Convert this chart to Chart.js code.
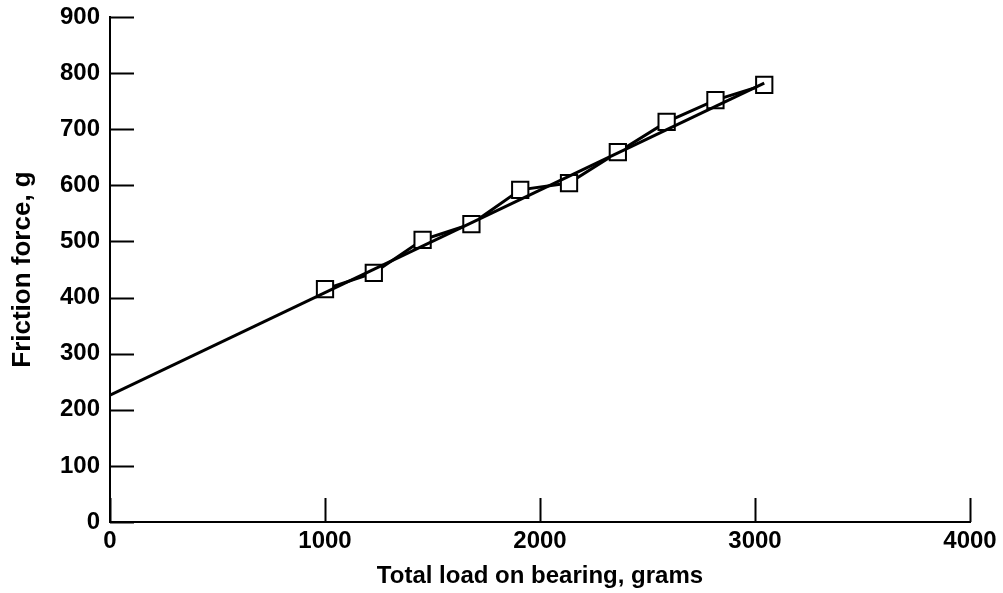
<!DOCTYPE html>
<html>
<head>
<meta charset="utf-8">
<script src="https://cdn.jsdelivr.net/npm/chart.js@4/dist/chart.umd.min.js"></script>
<style>
  html, body { margin: 0; padding: 0; background: #fff; }
  #wrap { width: 1003px; height: 593px; }
</style>
</head>
<body>
<div id="wrap"><canvas id="frictionChart" width="1003" height="593"></canvas></div>
<script>
const loads = [1000, 1227, 1454, 1681, 1908, 2135, 2362, 2589, 2816, 3043];
const friction = [415, 444, 503, 531, 592, 604, 659, 713, 752, 779];
const fitLoads = [0, 3043];
const fitFriction = [226, 782];
const xTicks = [0, 1000, 2000, 3000, 4000];
const yTicks = [0, 100, 200, 300, 400, 500, 600, 700, 800, 900];

const font = { family: "Liberation Sans", size: 24, weight: "bold" };

// tick marks drawn on the inside of the axes
const insideTicks = {
  id: "insideTicks",
  afterDraw(chart) {
    const { ctx, scales: { x, y } } = chart;
    ctx.save();
    ctx.strokeStyle = "#000";
    ctx.lineWidth = 2;
    ctx.beginPath();
    yTicks.forEach((v) => {
      const py = Math.round(y.getPixelForValue(v)) + 0.5;
      ctx.moveTo(x.left, py);
      ctx.lineTo(x.left + 24, py);
    });
    xTicks.forEach((v) => {
      const px = Math.round(x.getPixelForValue(v)) + 0.5;
      ctx.moveTo(px, y.bottom);
      ctx.lineTo(px, y.bottom - 24);
    });
    ctx.stroke();
    ctx.restore();
  }
};

new Chart(document.getElementById("frictionChart"), {
  type: "scatter",
  data: {
    datasets: [
      {
        label: "fit",
        data: fitLoads.map((v, i) => ({ x: v, y: fitFriction[i] })),
        showLine: true,
        borderColor: "#000",
        borderWidth: 3,
        pointRadius: 0
      },
      {
        label: "measured",
        data: loads.map((v, i) => ({ x: v, y: friction[i] })),
        showLine: true,
        borderColor: "#000",
        borderWidth: 3,
        pointStyle: "rect",
        pointRadius: 11.5,
        pointBorderWidth: 2,
        pointBorderColor: "#000",
        pointBackgroundColor: "#fff"
      }
    ]
  },
  plugins: [insideTicks],
  options: {
    responsive: false,
    animation: false,
    layout: { padding: { top: 17, right: 33, left: 0, bottom: 0 } },
    plugins: { legend: { display: false }, tooltip: { enabled: false } },
    scales: {
      x: {
        type: "linear",
        min: 0,
        max: 4000,
        afterBuildTicks: (s) => { s.ticks = xTicks.map((v) => ({ value: v })); },
        afterFit: (s) => { s.height = 71; },
        grid: { display: false, drawTicks: false },
        border: { display: true, color: "#000", width: 2 },
        ticks: { color: "#000", font, padding: 5, maxRotation: 0, callback: (v) => String(v) },
        title: { display: true, text: "Total load on bearing, grams", color: "#000", font, padding: { top: 8, bottom: 2 } }
      },
      y: {
        type: "linear",
        min: 0,
        max: 900,
        afterBuildTicks: (s) => { s.ticks = yTicks.map((v) => ({ value: v })); },
        afterFit: (s) => { s.width = 110; },
        grid: { display: false, drawTicks: false },
        border: { display: true, color: "#000", width: 2 },
        ticks: { color: "#000", font: { ...font, lineHeight: 0.5 }, padding: 10, callback: (v) => String(v) },
        title: { display: true, text: "Friction force, g", color: "#000", font: { ...font, size: 26 }, padding: { top: 7, bottom: 8 } }
      }
    }
  }
});
</script>
</body>
</html>
